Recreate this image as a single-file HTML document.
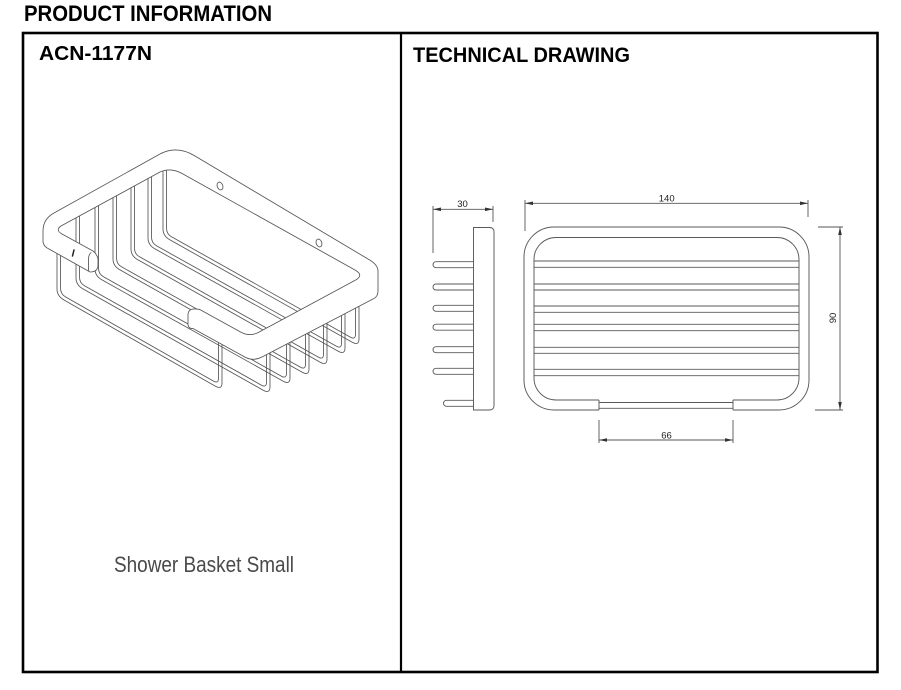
<!DOCTYPE html>
<html>
<head>
<meta charset="utf-8">
<style>
  html,body{margin:0;padding:0;background:#fff;}
  body{width:901px;height:690px;position:relative;overflow:hidden;font-family:"Liberation Sans",Arial,sans-serif;}
  svg{position:absolute;left:0;top:0;}
</style>
</head>
<body>
<svg width="901" height="690" viewBox="0 0 901 690" xmlns="http://www.w3.org/2000/svg">
  <!-- Headings -->
  <text x="24" y="21" font-family="Liberation Sans, Arial, sans-serif" font-weight="bold" font-size="22" textLength="248" lengthAdjust="spacingAndGlyphs" fill="#000">PRODUCT INFORMATION</text>
  <text x="39" y="60" font-family="Liberation Sans, Arial, sans-serif" font-weight="bold" font-size="20" textLength="113" lengthAdjust="spacingAndGlyphs" fill="#000">ACN-1177N</text>
  <text x="413" y="62" font-family="Liberation Sans, Arial, sans-serif" font-weight="bold" font-size="21" textLength="217" lengthAdjust="spacingAndGlyphs" fill="#000">TECHNICAL DRAWING</text>
  <text x="114" y="572" font-family="Liberation Sans, Arial, sans-serif" font-size="22" textLength="180" lengthAdjust="spacingAndGlyphs" fill="#4a4a4a">Shower Basket Small</text>

  <!-- Table frame -->
  <rect x="23" y="33" width="854.5" height="639" fill="none" stroke="#000" stroke-width="2.6"/>
  <line x1="401" y1="33" x2="401" y2="672" stroke="#000" stroke-width="2.2"/>

  <!-- ===== Isometric basket ===== -->
  <g fill="none" stroke="#555" stroke-width="0.85" stroke-linejoin="round" stroke-linecap="round">
    <!-- wires (drawn first, occluded by frame) -->
    <path d="M57,245 L57,289 Q57,296 64,300 L215,386 Q222,390 222,383 L222,326"/>
    <path d="M60.5,245 L60.5,288 Q60.5,294 65.5,296.9 L213.5,381.1 Q218.5,384 218.5,378 L218.5,326"/>

    <path d="M76,210 L76,278 Q76,285 83,288.9 L263,390.1 Q270,394 270,387 L270,330"/>
    <path d="M79.5,210 L79.5,277 Q79.5,283 84.5,285.8 L261.5,385.2 Q266.5,388 266.5,382 L266.5,330"/>

    <path d="M95,200 L95,269 Q95,276 102,279.9 L283,381.1 Q290,385 290,378 L290,319"/>
    <path d="M98.5,200 L98.5,268 Q98.5,274 103.5,276.8 L281.5,376.2 Q286.5,379 286.5,373 L286.5,319"/>

    <path d="M113,190 L113,259 Q113,266 120,269.9 L302,372.1 Q309,376 309,369 L309,309"/>
    <path d="M116.5,190 L116.5,258 Q116.5,264 121.5,266.8 L300.5,367.2 Q305.5,370 305.5,364 L305.5,309"/>

    <path d="M131,180 L131,249 Q131,256 138,259.9 L320,362.1 Q327,366 327,359 L327,299"/>
    <path d="M134.5,180 L134.5,248 Q134.5,254 139.5,256.8 L318.5,357.2 Q323.5,360 323.5,354 L323.5,299"/>

    <path d="M148,172 L148,238 Q148,245 155,248.9 L338,351.1 Q345,355 345,348 L345,290"/>
    <path d="M151.5,172 L151.5,237 Q151.5,243 156.5,245.8 L336.5,346.2 Q341.5,349 341.5,343 L341.5,290"/>

    <path d="M163,165 L163,229 Q163,236 170,239.9 L352,342.1 Q359,346 359,339 L359,282"/>
    <path d="M166.5,165 L166.5,228 Q166.5,234 171.5,236.8 L350.5,337.2 Q355.5,340 355.5,334 L355.5,282"/>

    <!-- frame ring (white filled, occludes wires) -->
    <path fill="#fff" d="M193,328.5 L243,356 Q252,362 262,357 L373,299 Q378,297 378,291 L378,271 Q378,264.5 368,259 L195,156 Q177,145 160,154 L54,213 Q43,219 43,231 L43,242 Q44,247 49,249 L90,272 Q98,272 98,265 L98,259 Q97,254 93,251 L62,234 Q55,230 61,226 L160,172 Q171,167 183,174 L355,270 Q364.5,275.3 355,280.4 L259,332.1 Q250,337 241,332.2 L200,309.6 Q189,307 188,314 L188,325 Q189,329 193,328.5 Z"/>

    <!-- cap details -->
    <path d="M91,252.5 Q88.5,255 88.5,259 L88.5,271"/>
    <line x1="72.5" y1="256" x2="74" y2="250" stroke-width="1.5" stroke="#222"/>

    <!-- mounting holes -->
    <ellipse cx="220" cy="186" rx="2.8" ry="4" transform="rotate(-20 220 186)"/>
    <ellipse cx="319" cy="243" rx="2.8" ry="4" transform="rotate(-20 319 243)"/>
  </g>

  <!-- ===== Technical drawing ===== -->
  <g fill="none" stroke="#5a5a5a" stroke-width="0.95">
    <!-- side view: plate -->
    <path d="M473.5,227.5 L489.5,227.5 Q494,227.5 494,232 L494,405.5 Q494,410 489.5,410 L473.5,410 Z"/>
    <!-- prongs -->
    <path d="M473.5,261.7 L436,261.7 A3 3 0 0 0 436,267.7 L473.5,267.7"/>
    <path d="M473.5,284 L436,284 A3 3 0 0 0 436,290 L473.5,290"/>
    <path d="M473.5,305.3 L436,305.3 A3 3 0 0 0 436,311.3 L473.5,311.3"/>
    <path d="M473.5,324.2 L436,324.2 A3 3 0 0 0 436,330.2 L473.5,330.2"/>
    <path d="M473.5,346.7 L436,346.7 A3 3 0 0 0 436,352.7 L473.5,352.7"/>
    <path d="M473.5,368.3 L436,368.3 A3 3 0 0 0 436,374.3 L473.5,374.3"/>
    <path d="M473.5,400.3 L446.5,400.3 A3 3 0 0 0 446.5,406.3 L473.5,406.3"/>

    <!-- front view: outer frame -->
    <path d="M599,410 L554,410 A30 30 0 0 1 524,380 L524,257 A30 30 0 0 1 554,227 L779,227 A30 30 0 0 1 809,257 L809,380 A30 30 0 0 1 779,410 L733,410"/>
    <!-- inner frame -->
    <path d="M599,400 L556,400 A22 22 0 0 1 534,378 L534,259.5 A22 22 0 0 1 556,237.5 L777,237.5 A22 22 0 0 1 799,259.5 L799,378 A22 22 0 0 1 777,400 L733,400"/>
    <!-- ends and bar -->
    <line x1="599" y1="400" x2="599" y2="410"/>
    <line x1="733" y1="400" x2="733" y2="410"/>
    <line x1="599" y1="402.5" x2="733" y2="402.5"/>
    <line x1="599" y1="408.3" x2="733" y2="408.3"/>
    <!-- slats -->
    <line x1="534" y1="261" x2="799" y2="261"/>
    <line x1="534" y1="267.3" x2="799" y2="267.3"/>
    <line x1="534" y1="284" x2="799" y2="284"/>
    <line x1="534" y1="290" x2="799" y2="290"/>
    <line x1="534" y1="306" x2="799" y2="306"/>
    <line x1="534" y1="312.3" x2="799" y2="312.3"/>
    <line x1="534" y1="324.3" x2="799" y2="324.3"/>
    <line x1="534" y1="330.7" x2="799" y2="330.7"/>
    <line x1="534" y1="347.3" x2="799" y2="347.3"/>
    <line x1="534" y1="353.3" x2="799" y2="353.3"/>
    <line x1="534" y1="369.3" x2="799" y2="369.3"/>
    <line x1="534" y1="375.7" x2="799" y2="375.7"/>
  </g>

  <!-- dimensions -->
  <g stroke="#555" stroke-width="0.9" fill="none">
    <!-- 30 -->
    <line x1="433" y1="206" x2="433" y2="253"/>
    <line x1="493" y1="206" x2="493" y2="222"/>
    <line x1="433" y1="209.3" x2="493" y2="209.3"/>
    <!-- 140 -->
    <line x1="525" y1="200" x2="525" y2="231"/>
    <line x1="808" y1="200" x2="808" y2="217"/>
    <line x1="525" y1="203.3" x2="808" y2="203.3"/>
    <!-- 66 -->
    <line x1="599" y1="420" x2="599" y2="443"/>
    <line x1="733" y1="420" x2="733" y2="443"/>
    <line x1="599" y1="440" x2="733" y2="440"/>
    <!-- 90 -->
    <line x1="818" y1="227" x2="843" y2="227"/>
    <line x1="815" y1="410" x2="843" y2="410"/>
    <line x1="840" y1="227" x2="840" y2="410"/>
  </g>
  <g fill="#333" stroke="none">
    <polygon points="433,209.3 441,207.5 441,211.1"/>
    <polygon points="493,209.3 485,207.5 485,211.1"/>
    <polygon points="525,203.3 533,201.5 533,205.1"/>
    <polygon points="808,203.3 800,201.5 800,205.1"/>
    <polygon points="599,440 607,438.2 607,441.8"/>
    <polygon points="733,440 725,438.2 725,441.8"/>
    <polygon points="840,227 838.2,235 841.8,235"/>
    <polygon points="840,410 838.2,402 841.8,402"/>
  </g>
  <g font-family="Liberation Sans, Arial, sans-serif" font-size="9.5" fill="#222" text-anchor="middle">
    <text x="462.5" y="207">30</text>
    <text x="666.7" y="201.5">140</text>
    <text x="666.5" y="438.5">66</text>
    <text transform="translate(836,318) rotate(-90)">90</text>
  </g>
</svg>
</body>
</html>
